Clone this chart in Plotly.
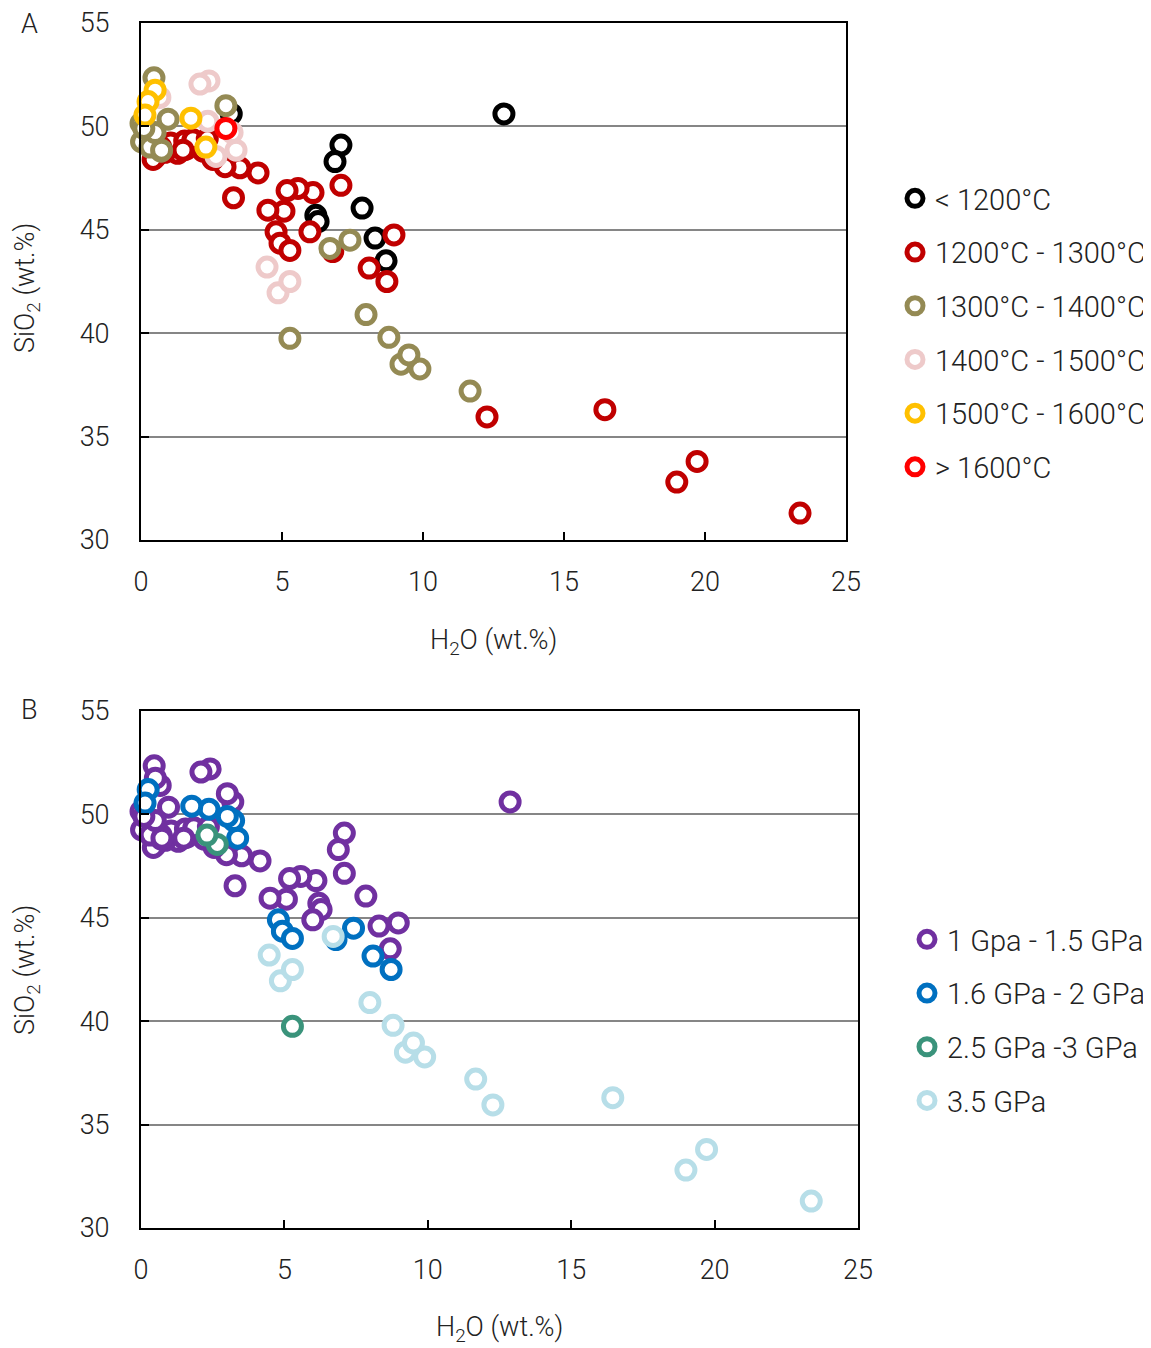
import plotly.graph_objects as go

# ---- data (H2O wt.%, SiO2 wt.%, temperature class, pressure class) ----
h2o = [
    # < 1200 C
    12.87, 7.09, 6.88, 6.20, 6.28, 7.84, 8.30, 8.69, 3.20,
    # 1200 - 1300 C
    23.37, 19.00, 19.72, 16.45, 12.27, 8.97, 8.72, 8.09, 7.09, 6.80,
    6.10, 5.99, 5.57, 5.18, 5.07, 4.50, 4.79, 4.93, 5.28, 4.15,
    3.28, 3.51, 2.98, 2.55, 2.20, 1.60, 1.30, 0.85, 0.50, 1.05,
    1.55, 1.84, 0.70, 2.35, 1.49, 0.43,
    # 1300 - 1400 C
    11.67, 9.89, 9.22, 9.50, 8.79, 7.98, 5.28, 7.41, 6.70, 3.01,
    0.46, 0.96, 0.71, 0.00, 0.02, 0.32, 0.73, 0.50, 0.10,
    # 1400 - 1500 C
    4.47, 4.86, 5.28, 2.41, 2.09, 3.37, 3.23, 2.66, 0.67, 2.37,
    # 1500 - 1600 C
    1.77, 2.30, 0.50, 0.25, 0.14,
    # > 1600 C
    3.01,
]
sio2 = [
    50.60, 49.10, 48.30, 45.70, 45.40, 46.05, 44.60, 43.50, 50.60,
    31.30, 32.80, 33.80, 36.30, 35.95, 44.75, 42.50, 43.15, 47.15, 43.95,
    46.80, 44.90, 47.00, 46.90, 45.90, 45.95, 44.90, 44.35, 44.00, 47.75,
    46.55, 48.00, 48.05, 48.40, 48.80, 48.90, 48.70, 48.75, 48.50, 49.20,
    49.30, 49.35, 49.00, 49.40, 48.85, 48.40,
    37.20, 38.27, 38.50, 38.95, 39.80, 40.90, 39.75, 44.50, 44.10, 51.00,
    52.35, 50.35, 48.80, 50.15, 49.25, 49.00, 48.85, 49.70, 49.90,
    43.20, 41.95, 42.50, 52.20, 52.05, 48.85, 49.70, 48.55, 51.40, 50.25,
    50.40, 49.00, 51.75, 51.20, 50.55,
    49.90,
]
temp_class = (
    [0] * 9 + [1] * 36 + [2] * 19 + [3] * 10 + [4] * 5 + [5] * 1
)
press_class = [
    0, 0, 0, 0, 0, 0, 0, 0, 0,
    3, 3, 3, 3, 3, 0, 1, 1, 0, 1,
    0, 0, 0, 0, 0, 0, 1, 1, 1, 0,
    0, 0, 0, 0, 0, 0, 0, 0, 0, 0,
    0, 0, 0, 0, 0, 0,
    3, 3, 3, 3, 3, 3, 2, 1, 3, 0,
    0, 0, 0, 0, 0, 0, 0, 0, 0,
    3, 3, 3, 0, 0, 1, 1, 2, 0, 1,
    1, 2, 0, 1, 1,
    1,
]

temp_labels = ["< 1200°C", "1200°C - 1300°C", "1300°C - 1400°C",
               "1400°C - 1500°C", "1500°C - 1600°C", "> 1600°C"]
temp_colors = ["#000000", "#C00000", "#948A54", "#EECACA", "#FFC000", "#FF0000"]
press_labels = ["1 Gpa - 1.5 GPa", "1.6 GPa - 2 GPa", "2.5 GPa -3 GPa", "3.5 GPa"]
press_colors = ["#7030A0", "#0070C0", "#3A937B", "#B7DEE8"]

x_ticks = [0, 5, 10, 15, 20, 25]
y_ticks = [30, 35, 40, 45, 50, 55]

FONT = "Roboto"
fig = go.Figure()

def add_series(cls, labels, colors, xa, ya, legend):
    for k, (lab, col) in enumerate(zip(labels, colors)):
        xs = [h for h, c in zip(h2o, cls) if c == k]
        ys = [s for s, c in zip(sio2, cls) if c == k]
        fig.add_trace(go.Scatter(
            x=xs, y=ys, mode="markers", name=lab,
            xaxis=xa, yaxis=ya, legend=legend, legendgroup=legend + str(k),
            cliponaxis=False,
            marker=dict(symbol="circle", size=18, color="white",
                        line=dict(color=col, width=5)),
        ))

add_series(temp_class, temp_labels, temp_colors, "x", "y", "legend")
add_series(press_class, press_labels, press_colors, "x2", "y2", "legend2")

OFF = 8  # page body margin
W, H = 1151 - OFF, 1348 - OFF

def px(x):
    return (x - OFF) / W

def py(y):
    return 1 - (y - OFF) / H

axis_common = dict(
    showline=True, linecolor="black", linewidth=2, mirror=True,
    ticks="inside", ticklen=8, tickwidth=2, tickcolor="black",
    tickfont=dict(family=FONT, size=27, color="#222222", weight=300),
    zeroline=False, automargin=False, ticklabeloverflow="allow",
)
xa_common = dict(axis_common, range=[0, 25], tickvals=x_ticks, showgrid=False,
                 ticklabelstandoff=17)
ya_common = dict(axis_common, range=[30, 55], tickvals=y_ticks, showgrid=True,
                 gridcolor="#868686", gridwidth=2, ticklabelstandoff=24)

legend_font = dict(family=FONT, size=29, color="#222222", weight=300)

fig.update_layout(
    width=W, height=H,
    margin=dict(l=0, r=0, t=0, b=0),
    paper_bgcolor="white", plot_bgcolor="white",
    font=dict(family=FONT, color="#222222", weight=300),
    xaxis=dict(xa_common, domain=[px(141), px(846)], anchor="y"),
    yaxis=dict(ya_common, domain=[py(540), py(23)], anchor="x"),
    xaxis2=dict(xa_common, domain=[px(141), px(858)], anchor="y2"),
    yaxis2=dict(ya_common, domain=[py(1228), py(711)], anchor="x2"),
    legend=dict(x=px(895), y=py(173), xanchor="left", yanchor="top",
                font=legend_font, tracegroupgap=13, itemsizing="trace",
                bgcolor="rgba(0,0,0,0)"),
    legend2=dict(x=px(907), y=py(914), xanchor="left", yanchor="top",
                 font=legend_font, tracegroupgap=13, itemsizing="trace",
                 bgcolor="rgba(0,0,0,0)"),
)

def ann(text, x, y, size=27, angle=0):
    fig.add_annotation(text=text, x=px(x), y=py(y), xref="paper", yref="paper",
                       showarrow=False, textangle=angle, xanchor="center", yanchor="middle",
                       font=dict(family=FONT, size=size, color="#222222", weight=300))

ann("A", 29, 24)
ann("B", 29, 710)
ann("H<sub>2</sub>O (wt.%)", 493, 642)
ann("H<sub>2</sub>O (wt.%)", 499, 1329)
ann("SiO<sub>2</sub> (wt.%)", 27, 288, angle=-90)
ann("SiO<sub>2</sub> (wt.%)", 27, 970, angle=-90)

fig.write_html("out.html")
